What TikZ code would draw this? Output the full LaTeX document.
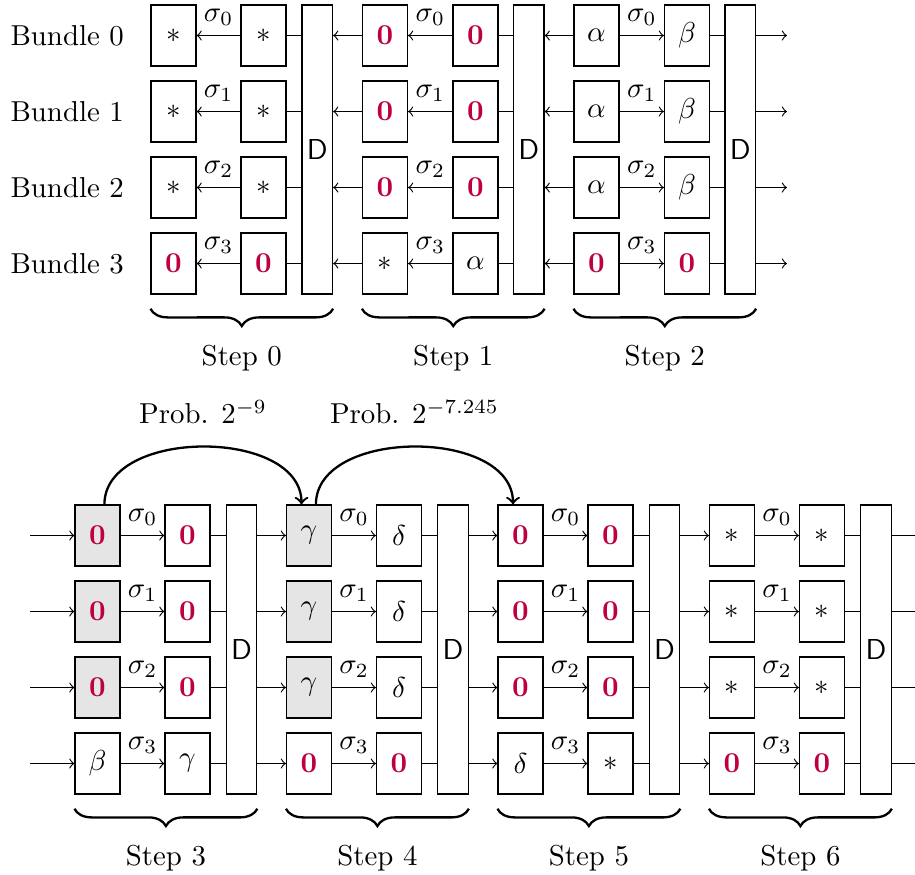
\documentclass[tikz,border=0pt]{standalone}
\usepackage{amsmath}
\usepackage{xcolor}
\usetikzlibrary{arrows, positioning, calc, decorations.pathreplacing}

\newcommand{\pxu}{0.347pt}
\newcommand{\bzero}{\textcolor{purple}{$\mathbf{0}$}}

\tikzstyle{cell} = [draw, minimum width=15.6pt, minimum height=21.2pt, inner sep=0pt]
\tikzstyle{dbox} = [draw, minimum width=10.6pt, minimum height=100.3pt, inner sep=0pt, font=\sffamily]
\tikzstyle{brc} = [thick, decorate, decoration={brace, mirror, amplitude=6pt}]

\begin{document}
\begin{tikzpicture}[x=\pxu, y=-\pxu]
    \path[use as bounding box, clip] (0,0) rectangle (915,874);

    % Pasos 0-2
    \foreach \row/\pa/\qa/\pb/\qb/\pc/\qc in {
        0/$*$/$*$/\bzero/\bzero/$\alpha$/$\beta$,
        1/$*$/$*$/\bzero/\bzero/$\alpha$/$\beta$,
        2/$*$/$*$/\bzero/\bzero/$\alpha$/$\beta$,
        3/\bzero/\bzero/$*$/$\alpha$/\bzero/\bzero}
    {
        \node[cell] (a0-\row) at (173.5, 35.5+76*\row) {\pa};
        \node[cell] (b0-\row) at (263.5, 35.5+76*\row) {\qa};
        \node[cell] (a1-\row) at (385, 35.5+76*\row) {\pb};
        \node[cell] (b1-\row) at (475.5, 35.5+76*\row) {\qb};
        \node[cell] (a2-\row) at (596.5, 35.5+76*\row) {\pc};
        \node[cell] (b2-\row) at (687, 35.5+76*\row) {\qc};
        \node[left=5.7pt of a0-\row] (bl\row) {Bundle \row};
    }
    \foreach \s in {0,1,2}
        \node[dbox] (d\s) at (317.25+211.5*\s, 149.5) {D};

    % Conexiones arriba
    \foreach \s in {0,1,2}
        \foreach \row in {0,...,3}
            \draw (b\s-\row.east) -- (d\s.west |- b\s-\row.east);
    \foreach \s in {0,1}
        \foreach \row in {0,...,3}
            \draw[->] (b\s-\row) -- (a\s-\row) node[midway, above] (g\s-\row) {$\sigma_\row$};
    \foreach \row in {0,...,3}
        \draw[->] (a2-\row) -- (b2-\row) node[midway, above] (g2-\row) {$\sigma_\row$};
    \foreach \s/\t in {0/1, 1/2}
        \foreach \row in {0,...,3}
            \draw[->] (a\t-\row.west) -- (d\s.east |- a\t-\row.west);
    \foreach \row in {0,...,3} {
        \coordinate (o\row) at (787, 35.5+76*\row);
        \draw[->] (d2.east |- o\row) -- (o\row);
    }

    % Llaves arriba
    \foreach \s in {0,1,2}
        \draw[brc] ([yshift=-4.9pt]a\s-3.south west) -- ([yshift=-4.9pt]d\s.south east)
            node[midway, below=9pt] (st\s) {Step \s};

    % Pasos 3-6
    \foreach \row/\ga/\pa/\qa/\gb/\pb/\qb/\pc/\qc/\pd/\qd in {
        0/10/\bzero/\bzero/10/$\gamma$/$\delta$/\bzero/\bzero/$*$/$*$,
        1/10/\bzero/\bzero/10/$\gamma$/$\delta$/\bzero/\bzero/$*$/$*$,
        2/10/\bzero/\bzero/10/$\gamma$/$\delta$/\bzero/\bzero/$*$/$*$,
        3/0/$\beta$/$\gamma$/0/\bzero/\bzero/$\delta$/$*$/\bzero/\bzero}
    {
        \node[cell, fill=black!\ga] (a3-\row) at (97.5, 535.5+76*\row) {\pa};
        \node[cell] (b3-\row) at (187.5, 535.5+76*\row) {\qa};
        \node[cell, fill=black!\gb] (a4-\row) at (309, 535.5+76*\row) {\pb};
        \node[cell] (b4-\row) at (399, 535.5+76*\row) {\qb};
        \node[cell] (a5-\row) at (520.5, 535.5+76*\row) {\pc};
        \node[cell] (b5-\row) at (610.5, 535.5+76*\row) {\qc};
        \node[cell] (a6-\row) at (732, 535.5+76*\row) {\pd};
        \node[cell] (b6-\row) at (822, 535.5+76*\row) {\qd};
    }
    \foreach \s in {3,...,6}
        \node[dbox] (d\s) at (241.5+211.5*\s-634.5, 649.5) {D};

    % Conexiones abajo
    \foreach \row in {0,...,3} {
        \coordinate (i\row) at (30, 535.5+76*\row);
        \coordinate (q\row) at (923, 535.5+76*\row);
        \draw[->] (i\row) -- (a3-\row);
        \draw[->] (d6.east |- q\row) -- (q\row);
    }
    \foreach \s in {3,...,6}
        \foreach \row in {0,...,3} {
            \draw[->] (a\s-\row) -- (b\s-\row) node[midway, above] (g\s-\row) {$\sigma_\row$};
            \draw (b\s-\row.east) -- (d\s.west |- b\s-\row.east);
        }
    \foreach \s/\t in {3/4, 4/5, 5/6}
        \foreach \row in {0,...,3}
            \draw[->] (d\s.east |- a\t-\row.west) -- (a\t-\row.west);

    % Llaves abajo
    \foreach \s in {3,...,6}
        \draw[brc] ([yshift=-4.9pt]a\s-3.south west) -- ([yshift=-4.9pt]d\s.south east)
            node[midway, below=9pt] (st\s) {Step \s};

    % Probabilidades
    \draw[thick, ->] ([xshift=2.4pt]a3-0.north) to[out=90, in=90]
        node[midway, anchor=base, yshift=8pt] (p0) {Prob. $2^{-9}$}
        ([xshift=-2.6pt]a4-0.north);
    \draw[thick, ->] ([xshift=2.4pt]a4-0.north) to[out=90, in=90]
        node[midway, anchor=base, yshift=8pt] (p1) {Prob. $2^{-7.245}$}
        ([xshift=-2.6pt]a5-0.north);
\end{tikzpicture}
\end{document}
